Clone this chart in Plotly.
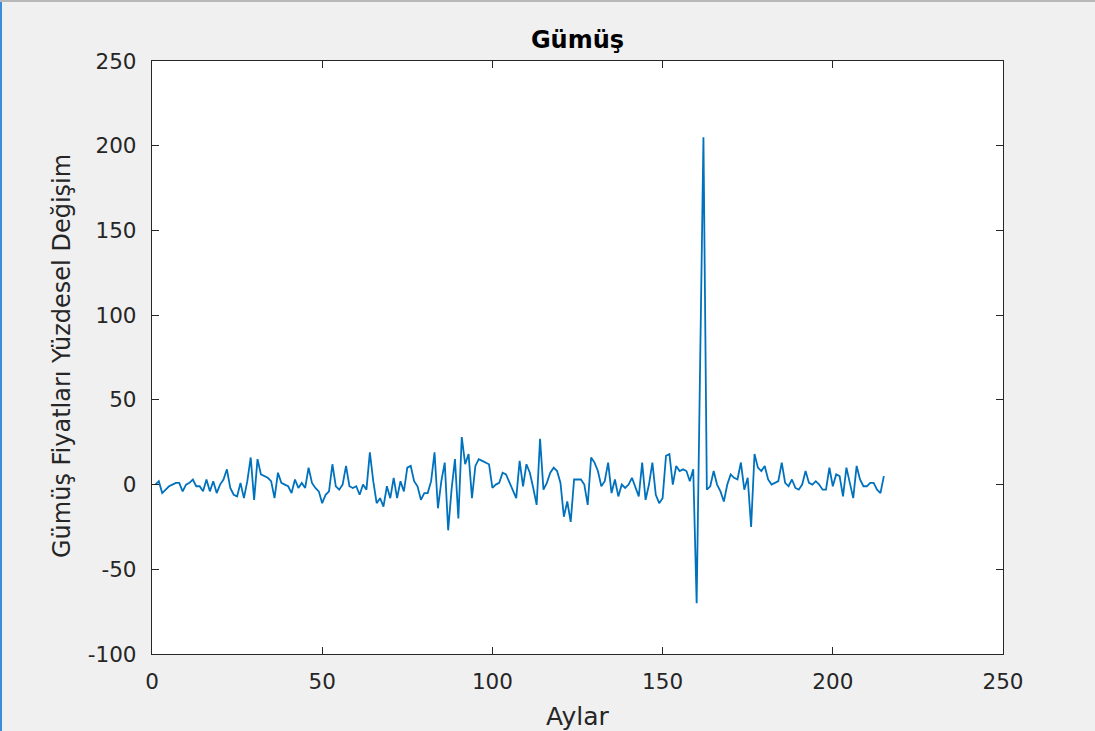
import plotly.graph_objects as go

change = [
    0, 2, -5, -3, -1, 0, 1, 1, -4, 0,
    1, 3, -1, -1, -4, 3, -4, 2, -5, 0,
    3, 9, -2, -6, -7, 1, -8, 2, 16, -9,
    15, 6, 5, 4, 2, -8, 7, 1, 0, -1,
    -5, 3, -2, 1, -2, 10, 1, -2, -4, -11,
    -6, -4, 12, -1, -3, 0, 11, -1, -2, -1,
    -6, 0, -3, 19, 2, -11, -8, -13, -1, -8,
    4, -8, 2, -4, 10, 11, 2, -1, -9, -5,
    -5, 2, 19, -14, 2, 13, -27, -3, 15, -20,
    28, 12, 18, -8, 11, 15, 14, 13, 12, -2,
    0, 1, 7, 6, 1, -3, -8, 14, -1, 12,
    7, -2, -12, 27, -3, 1, 7, 10, 8, 1,
    -19, -10, -22, 3, 3, 3, 0, -12, 16, 13,
    8, -1, 2, 13, -5, 3, -7, 0, -2, 0,
    4, -2, -7, 13, -9, 0, 13, -6, -11, -8,
    17, 18, 0, 11, 8, 9, 8, 2, 9, -70,
    68, 205, -3, -1, 8, 0, -4, -10, 0, 6,
    4, 3, 13, -3, 4, -25, 18, 10, 8, 11,
    3, 0, 1, 2, 13, 1, -1, 3, -2, -3,
    0, 8, 1, 0, 2, 0, -3, -3, 10, -1,
    6, 5, -7, 10, 1, -8, 11, 3, -1, -1,
    1, 1, -3, -5, 5,
]
months = list(range(1, len(change) + 1))
x_ticks = [0, 50, 100, 150, 200, 250]
y_ticks = [-100, -50, 0, 50, 100, 150, 200, 250]

title_text = "Gümüş"
x_label = "Aylar"
y_label = "Gümüş Fiyatları Yüzdesel Değişim"

W, H = 1095, 731
L, R, T, B = 152, 92, 61, 77
pw = W - L - R
ph = H - T - B

fig = go.Figure()
fig.add_trace(go.Scatter(
    x=months, y=change, mode="lines",
    line=dict(color="#0072BD", width=1.8),
    showlegend=False, hoverinfo="skip",
))

font_main = "DejaVu Sans, Liberation Sans, Arial, sans-serif"
axis_common = dict(
    showgrid=False, zeroline=False,
    showline=True, linecolor="#262626", linewidth=1.3,
    mirror="ticks", ticks="inside", ticklen=7, tickwidth=1,
    tickcolor="#262626",
    tickfont=dict(family=font_main, size=21.5, color="#262626"),
)

fig.update_xaxes(
    range=[0, 250], tickvals=x_ticks,
    ticktext=[str(v) for v in x_ticks],
    ticklabelstandoff=8,
    **axis_common,
)
fig.update_yaxes(
    range=[-100, 250], tickvals=y_ticks,
    ticktext=[str(v) for v in y_ticks],
    ticklabelstandoff=10,
    **axis_common,
)

fig.update_layout(
    width=W, height=H,
    margin=dict(l=L, r=R, t=T, b=B, autoexpand=False),
    paper_bgcolor="#f0f0f0",
    plot_bgcolor="#ffffff",
    title=dict(
        text="<b>" + title_text + "</b>",
        font=dict(family=font_main, size=24, color="#000000"),
        x=(L + pw / 2) / W, xanchor="center",
        y=1 - 40 / H, yanchor="middle",
        xref="container", yref="container",
    ),
    annotations=[
        dict(text=x_label, xref="paper", yref="paper",
             x=0.5, y=(ph - (716 - T)) / ph, xanchor="center", yanchor="middle",
             showarrow=False, font=dict(family=font_main, size=25, color="#262626")),
        dict(text=y_label, xref="paper", yref="paper", textangle=-90,
             x=(62 - L) / pw, y=(ph - (356 - T)) / ph, xanchor="center", yanchor="middle",
             showarrow=False, font=dict(family=font_main, size=24, color="#262626")),
    ],
    shapes=[
        dict(type="line", xref="paper", yref="paper",
             x0=-(L - 1) / pw, x1=-(L - 1) / pw, y0=-B / ph, y1=1 + T / ph,
             line=dict(color="#3b8ddb", width=2)),
        dict(type="line", xref="paper", yref="paper",
             x0=-L / pw, x1=1 + R / pw, y0=1 + (T - 1) / ph, y1=1 + (T - 1) / ph,
             line=dict(color="#b8b8b8", width=2)),
    ],
)

fig.write_html(
    "out.html",
    config={"displayModeBar": False},
    post_script="document.body.style.margin='0';document.body.style.background='#f0f0f0';document.body.style.overflow='hidden';",
)
